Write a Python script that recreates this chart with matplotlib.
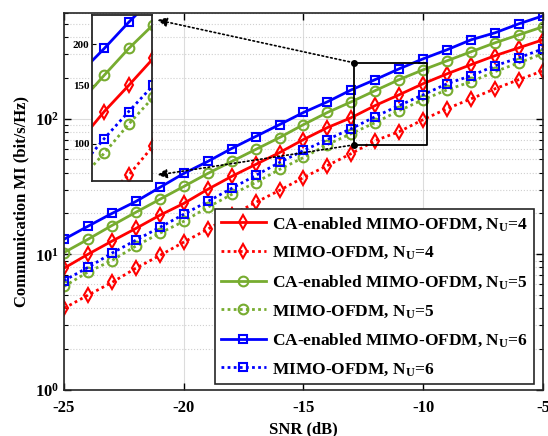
import matplotlib
matplotlib.use("Agg")
import matplotlib.pyplot as plt
from matplotlib.ticker import LogLocator, NullFormatter, FixedLocator, FixedFormatter

plt.rcParams["font.family"] = ["Liberation Serif", "DejaVu Serif"]
plt.rcParams["font.weight"] = "bold"
plt.rcParams["mathtext.fontset"] = "custom"
plt.rcParams["mathtext.rm"] = "Liberation Serif:bold"
plt.rcParams["mathtext.it"] = "Liberation Serif:bold"
plt.rcParams["mathtext.bf"] = "Liberation Serif:bold"
plt.rcParams["axes.unicode_minus"] = False

snr_db = list(range(-25, -4))

ca_nu4 = [7.9, 10.0, 12.5, 15.5, 19.4, 23.7, 30.1, 37.5, 45.9, 56.2, 70.1,
          85.9, 101.7, 125, 150, 181, 214, 250, 291, 333, 381]
mo_nu4 = [4.0, 5.0, 6.2, 7.9, 9.8, 12.3, 15.3, 19.4, 24.1, 29.6, 36.8,
          45.1, 55.3, 68.9, 80.2, 98.4, 118.5, 140, 166, 194, 225]
ca_nu5 = [10.3, 12.9, 16.3, 20.4, 25.4, 31.6, 39.4, 48.3, 59.2, 72.5, 90.3,
          111, 133, 161, 194, 229, 267, 311, 362, 415, 475]
mo_nu5 = [5.8, 7.4, 9.0, 11.5, 14.3, 17.5, 22.2, 27.6, 33.8, 42.2, 51.7,
          64.4, 77.6, 93.5, 114.5, 138, 163, 187, 222, 258, 301]
ca_nu6 = [12.9, 16.1, 20.0, 24.5, 31.1, 39.4, 48.3, 60.2, 73.8, 90.3, 111,
          133, 163, 194, 233, 276, 322, 381, 429, 500, 572]
mo_nu6 = [6.4, 8.0, 10.2, 12.7, 15.8, 19.7, 24.5, 30.6, 38.1, 47.5, 58.2,
          70.1, 84.4, 103.5, 125, 150, 181, 207, 245, 281, 327]

labels = ["CA-enabled MIMO-OFDM, N$_\\mathregular{U}$=4",
          "MIMO-OFDM, N$_\\mathregular{U}$=4",
          "CA-enabled MIMO-OFDM, N$_\\mathregular{U}$=5",
          "MIMO-OFDM, N$_\\mathregular{U}$=5",
          "CA-enabled MIMO-OFDM, N$_\\mathregular{U}$=6",
          "MIMO-OFDM, N$_\\mathregular{U}$=6"]

RED = "#ff0000"
GREEN = "#77ac30"
BLUE = "#0000ff"
DOT = (0, (1, 1.2))

series = [
    (ca_nu4, RED, "-", "d", 7),
    (mo_nu4, RED, DOT, "d", 7),
    (ca_nu5, GREEN, "-", "o", 7),
    (mo_nu5, GREEN, DOT, "o", 7),
    (ca_nu6, BLUE, "-", "s", 6),
    (mo_nu6, BLUE, DOT, "s", 6),
]


def draw_series(ax, with_labels=True):
    for (vals, color, ls, mk, ms), lab in zip(series, labels):
        ax.plot(snr_db, vals, color=color, linestyle=ls, linewidth=2,
                marker=mk, markersize=ms, markerfacecolor="none",
                markeredgewidth=1.5, label=lab if with_labels else None)


fig = plt.figure(figsize=(5.48, 4.36), dpi=100)
ax = fig.add_axes([64 / 548, 46 / 436, 479 / 548, 377 / 436])
draw_series(ax)
ax.set_yscale("log")
ax.set_xlim(-25, -5)
ax.set_ylim(1, 600)
ax.set_xticks([-25, -20, -15, -10, -5])
ax.yaxis.set_major_locator(LogLocator(base=10, numticks=10))
ax.yaxis.set_minor_locator(LogLocator(base=10, subs=range(2, 10), numticks=20))
ax.yaxis.set_minor_formatter(NullFormatter())
ax.tick_params(which="both", direction="in", top=True, right=True, labelsize=12)
ax.tick_params(which="major", length=5, width=1)
ax.tick_params(which="minor", length=3, width=0.8)
ax.tick_params(axis="x", pad=7)
ax.grid(True, which="major", color="#dcdcdc", linewidth=0.8)
ax.grid(True, which="minor", axis="y", color="#d0d0d0", linestyle=":", linewidth=0.8)
for sp in ax.spines.values():
    sp.set_linewidth(1.2)
    sp.set_color("#262626")
ax.set_xlabel("SNR (dB)", fontsize=12, fontweight="bold", labelpad=4)
ax.set_ylabel("Communication MI (bit/s/Hz)", fontsize=12, fontweight="bold", labelpad=4)

leg = ax.legend(loc="lower right", bbox_to_anchor=(0.981, 0.016), borderaxespad=0,
                fontsize=12.5, fancybox=False, framealpha=1, edgecolor="#262626",
                handlelength=2.6, handletextpad=0.35, labelspacing=0.68,
                borderpad=0.35)
leg.get_frame().set_linewidth(1.2)

# zoom box in the main axes
bx0, bx1, by0, by1 = -12.9, -9.85, 64, 258
ax.plot([bx0, bx1, bx1, bx0, bx0], [by0, by0, by1, by1, by0], color="k", linewidth=1.3)
ax.plot([bx0, bx0], [by1, by0], linestyle="none", marker="o", markersize=4, color="k")

# inset
axi = fig.add_axes([92 / 548, 255 / 436, 60 / 548, 166 / 436])
draw_series(axi, with_labels=False)
axi.set_yscale("log")
axi.set_xlim(-12.5, -10.05)
axi.set_ylim(77, 245)
axi.set_xticks([])
axi.yaxis.set_major_locator(FixedLocator([100, 150, 200]))
axi.yaxis.set_major_formatter(FixedFormatter(["100", "150", "200"]))
axi.yaxis.set_minor_formatter(NullFormatter())
axi.yaxis.set_minor_locator(FixedLocator([]))
axi.tick_params(direction="in", labelsize=8, length=3, pad=2)
for sp in axi.spines.values():
    sp.set_linewidth(1.3)
    sp.set_color("#262626")

arrow = dict(arrowstyle="-|>", linestyle=":", color="k", linewidth=1.2,
             mutation_scale=14, shrinkA=0, shrinkB=0)
ax.annotate("", xy=(1.09, 0.97), xycoords=axi.transAxes,
            xytext=(bx0, by1), textcoords="data", arrowprops=arrow,
            annotation_clip=False)
ax.annotate("", xy=(1.09, 0.036), xycoords=axi.transAxes,
            xytext=(bx0, by0), textcoords="data", arrowprops=arrow,
            annotation_clip=False)

fig.savefig("out.png", dpi=100)
